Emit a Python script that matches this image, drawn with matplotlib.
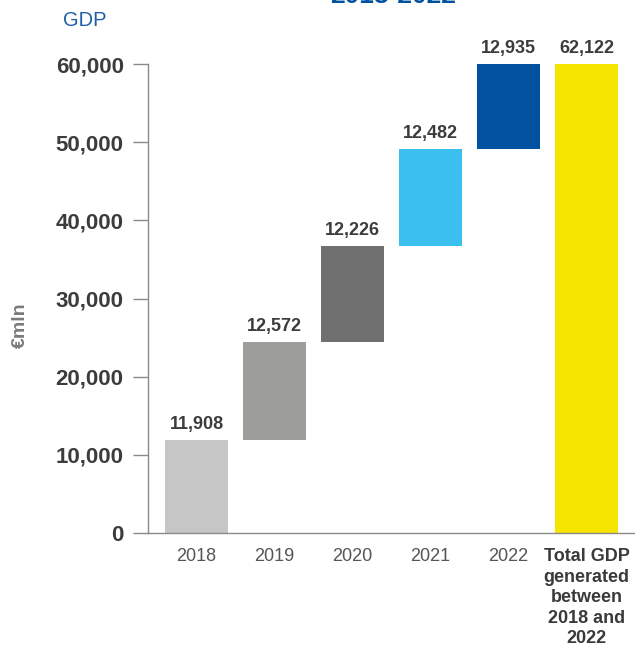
import matplotlib
matplotlib.use("Agg")
import matplotlib.pyplot as plt
import numpy as np

plt.rcParams['font.family'] = ['Liberation Sans', 'DejaVu Sans']

categories = ["2018", "2019", "2020", "2021", "2022",
              "Total GDP\ngenerated\nbetween\n2018 and\n2022"]
yearly_gdp = [11908, 12572, 12226, 12482, 12935]
total_gdp = 62122
bar_colors = ["#c6c6c6", "#9d9d9c", "#6f6f6f", "#3bbfef", "#0051a0", "#f5e500"]
y_ticks = [0, 10000, 20000, 30000, 40000, 50000, 60000]

y_max = 60000

fig = plt.figure(figsize=(6.35, 6.48), dpi=100)
ax = fig.add_axes([148 / 635, 1 - 533 / 648, 1 - 148 / 635, (533 - 64) / 648])

x = np.arange(len(categories))
bottoms = np.concatenate([[0], np.cumsum(yearly_gdp)[:-1]])
heights = list(yearly_gdp) + [total_gdp]
bases = list(bottoms) + [0]
labels = [f"{v:,}" for v in heights]

ax.bar(x, heights, bottom=bases, width=0.81, color=bar_colors, zorder=2)

for xi, b, h, lab in zip(x, bases, heights, labels):
    top = min(b + h, y_max)
    ax.annotate(lab, (xi, top), xytext=(0, 5), textcoords="offset points",
                ha="center", va="bottom", fontsize=13, fontweight="bold",
                color="#3c3c3c", annotation_clip=False)

ax.set_xlim(-0.622, 5.622)
ax.set_ylim(0, y_max)
ax.set_yticks(y_ticks)
ax.set_yticklabels([f"{t:,}" for t in y_ticks], fontsize=16,
                   fontweight="bold", color="#3c3c3c")
ax.tick_params(axis="y", length=10.5, width=1, color="#8a8a8a", pad=7)
ax.set_xticks(x)
ax.set_xticklabels(categories, fontsize=13, color="#555555", linespacing=1.27)
ax.tick_params(axis="x", length=0, pad=11)
xt = ax.get_xticklabels()
xt[-1].set_fontweight("bold")
xt[-1].set_color("#3a3a3a")

for s in ["top", "right"]:
    ax.spines[s].set_visible(False)
ax.spines["left"].set_color("#8a8a8a")
ax.spines["bottom"].set_color("#8a8a8a")
ax.spines["left"].set_linewidth(1)
ax.spines["bottom"].set_linewidth(1)

ax.set_ylabel("€mln", fontsize=14, fontweight="bold", color="#7a7a7a",
              labelpad=0)
ax.yaxis.set_label_coords(-(148 - 29) / 487, (533 - 325) / 469)

fig.text(63 / 635, 1 - 20 / 648, "GDP", fontsize=14.5, color="#1f5fa8",
         ha="left", va="center")
fig.text(393 / 635, 1 - 3 / 648, "2018-2022", fontsize=19, fontweight="bold",
         color="#0051a0", ha="center", va="baseline")

fig.savefig("out.png", dpi=100)
